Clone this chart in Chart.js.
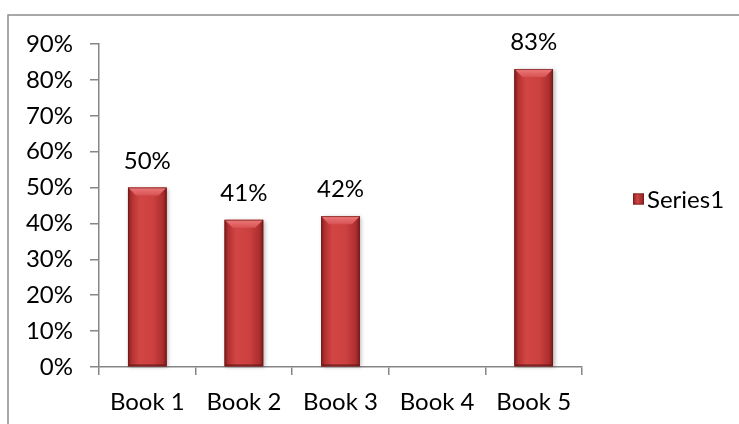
<!DOCTYPE html>
<html>
<head>
<meta charset="utf-8">
<script src="https://cdn.jsdelivr.net/npm/chart.js@4/dist/chart.umd.min.js"></script>
<style>
  html, body { margin: 0; padding: 0; background: #ffffff; }
  #wrap { position: relative; width: 739px; height: 424px; }
  canvas { display: block; }
</style>
</head>
<body>
<div id="wrap"><canvas id="c" width="739" height="424"></canvas></div>
<script>
const categories = ["Book 1", "Book 2", "Book 3", "Book 4", "Book 5"];
const seriesName = "Series1";
const seriesValues = [50, 41, 42, null, 83];
const yMin = 0;
const yMax = 90;
const yStep = 10;

const FONT = "Lato";
const FONT_SIZE = 24;
const AXIS_COLOR = "#868686";

const framePlugin = {
  id: "frame",
  beforeDraw(chart) {
    const ctx = chart.ctx;
    ctx.save();
    ctx.strokeStyle = "#8c8c8c";
    ctx.lineWidth = 1.5;
    ctx.beginPath();
    ctx.moveTo(8, chart.height);
    ctx.lineTo(8, 15);
    ctx.lineTo(chart.width, 15);
    ctx.stroke();
    ctx.restore();
  }
};

const bevelBarsPlugin = {
  id: "bevelBars",
  afterDatasetsDraw(chart) {
    const ctx = chart.ctx;
    const meta = chart.getDatasetMeta(0);
    meta.data.forEach((bar, i) => {
      const v = chart.data.datasets[0].data[i];
      if (v === null || v === undefined) return;
      const p = bar.getProps(["x", "y", "base", "width"], true);
      const l = p.x - p.width / 2, r = p.x + p.width / 2;
      const t = Math.min(p.y, p.base), b = Math.max(p.y, p.base);
      const w = r - l;
      ctx.save();
      ctx.shadowColor = "rgba(0,0,0,0.28)";
      ctx.shadowBlur = 4;
      ctx.shadowOffsetX = 1.5;
      ctx.shadowOffsetY = 1;
      ctx.fillStyle = "#b83232";
      ctx.fillRect(l, t, w, b - t);
      ctx.restore();

      ctx.save();
      const g = ctx.createLinearGradient(l, 0, r, 0);
      g.addColorStop(0, "#7c1d1d");
      g.addColorStop(0.1, "#b53131");
      g.addColorStop(0.3, "#d24545");
      g.addColorStop(0.65, "#cc4040");
      g.addColorStop(0.9, "#ad2e2e");
      g.addColorStop(1, "#751b1b");
      ctx.fillStyle = g;
      ctx.fillRect(l, t, w, b - t);

      const bv = Math.min(8, (b - t) / 2);
      const gt = ctx.createLinearGradient(0, t, 0, t + bv);
      gt.addColorStop(0, "#ec7a7a");
      gt.addColorStop(1, "#d85252");
      ctx.fillStyle = gt;
      ctx.beginPath();
      ctx.moveTo(l, t);
      ctx.lineTo(r, t);
      ctx.lineTo(r - bv, t + bv);
      ctx.lineTo(l + bv, t + bv);
      ctx.closePath();
      ctx.fill();

      ctx.fillStyle = "rgba(90,20,20,0.55)";
      ctx.beginPath();
      ctx.moveTo(l, b);
      ctx.lineTo(r, b);
      ctx.lineTo(r - 2, b - 2);
      ctx.lineTo(l + 2, b - 2);
      ctx.closePath();
      ctx.fill();

      ctx.strokeStyle = "rgba(110,25,25,0.8)";
      ctx.lineWidth = 0.8;
      ctx.strokeRect(l + 0.4, t + 0.4, w - 0.8, b - t - 0.8);
      ctx.restore();
    });
  },
  afterDraw(chart) {
    const ctx = chart.ctx;
    const meta = chart.getDatasetMeta(0);
    ctx.save();
    ctx.font = FONT_SIZE + "px " + FONT;
    ctx.fillStyle = "#000000";
    ctx.textAlign = "center";
    ctx.textBaseline = "alphabetic";
    meta.data.forEach((bar, i) => {
      const v = chart.data.datasets[0].data[i];
      if (v === null || v === undefined) return;
      const p = bar.getProps(["x", "y"], true);
      ctx.fillText(v + "%", p.x, p.y - 19);
    });
    const ca = chart.chartArea;
    const lx = ca.right + 51;
    const ly = (ca.top + ca.bottom) / 2 - 12;
    const sq = 11;
    const g = ctx.createLinearGradient(lx, 0, lx + sq, 0);
    g.addColorStop(0, "#8a2222");
    g.addColorStop(0.4, "#cf4343");
    g.addColorStop(1, "#8a2222");
    ctx.fillStyle = g;
    ctx.fillRect(lx, ly, sq, sq);
    ctx.strokeStyle = "#7a1c1c";
    ctx.lineWidth = 0.8;
    ctx.strokeRect(lx + 0.4, ly + 0.4, sq - 0.8, sq - 0.8);
    ctx.fillStyle = "#000000";
    ctx.textAlign = "left";
    ctx.font = FONT_SIZE + "px " + FONT;
    ctx.fillText(chart.data.datasets[0].label, lx + 14, ly + 14);
    ctx.restore();
  }
};

new Chart(document.getElementById("c"), {
  type: "bar",
  data: {
    labels: categories,
    datasets: [{
      label: seriesName,
      data: seriesValues,
      backgroundColor: "rgba(0,0,0,0)",
      borderWidth: 0,
      barPercentage: 0.4,
      categoryPercentage: 1.0
    }]
  },
  options: {
    responsive: false,
    animation: false,
    devicePixelRatio: 1,
    layout: { padding: { left: 0, right: 157, top: 44, bottom: 0 } },
    plugins: {
      legend: { display: false },
      tooltip: { enabled: false }
    },
    scales: {
      x: {
        afterFit(scale) { scale.height = 57; },
        grid: {
          display: true,
          drawOnChartArea: false,
          offset: true,
          tickLength: 8,
          color: AXIS_COLOR,
          lineWidth: 1.5
        },
        border: { display: true, color: AXIS_COLOR, width: 1.5 },
        ticks: {
          font: { family: FONT, size: FONT_SIZE },
          color: "#000000",
          padding: 13,
          maxRotation: 0
        }
      },
      y: {
        min: yMin,
        max: yMax,
        afterFit(scale) { scale.width = 99; },
        grid: {
          display: true,
          drawOnChartArea: false,
          tickLength: 9,
          color: AXIS_COLOR,
          lineWidth: 1.5
        },
        border: { display: true, color: AXIS_COLOR, width: 1.5 },
        ticks: {
          stepSize: yStep,
          font: { family: FONT, size: FONT_SIZE },
          color: "#000000",
          padding: 17,
          callback: (v) => v + "%"
        }
      }
    }
  },
  plugins: [framePlugin, bevelBarsPlugin]
});
</script>
</body>
</html>
